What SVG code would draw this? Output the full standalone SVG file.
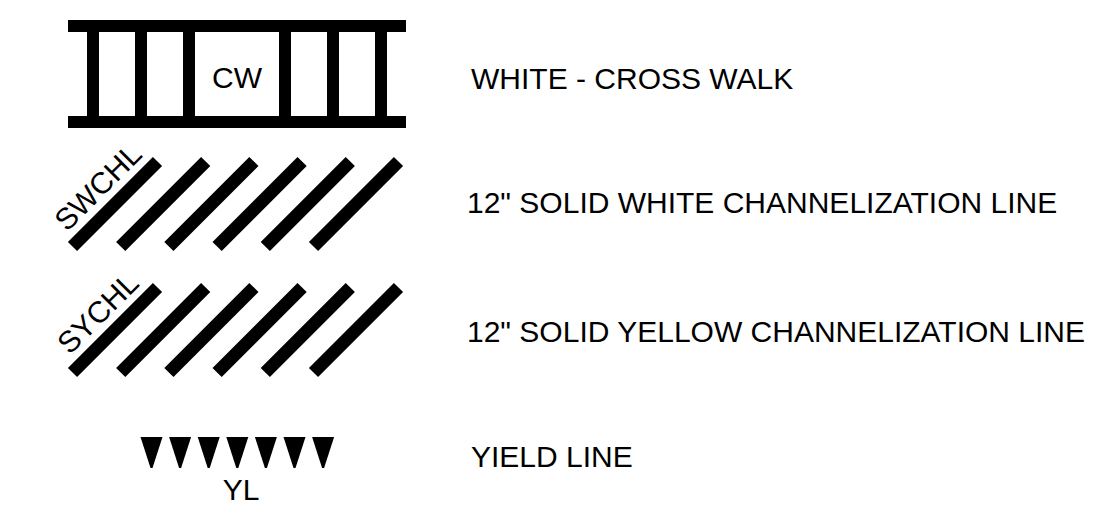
<svg xmlns="http://www.w3.org/2000/svg" width="1106" height="531" viewBox="0 0 1106 531">
<style>
text{font-family:"Liberation Sans",Arial,sans-serif;font-size:30px;fill:#000}
.bar{fill:#000}
.stripe{stroke:#000;stroke-width:13;stroke-linecap:butt;fill:none}
.tri{fill:#000}
</style>
<rect width="1106" height="531" fill="#fff"/>
<g id="crosswalk">
<rect class="bar" x="68" y="20" width="338" height="12"/>
<rect class="bar" x="68" y="116" width="338" height="12"/>
<rect class="bar" x="87" y="20" width="12" height="108"/>
<rect class="bar" x="135" y="20" width="12" height="108"/>
<rect class="bar" x="183" y="20" width="12" height="108"/>
<rect class="bar" x="279" y="20" width="12" height="108"/>
<rect class="bar" x="327" y="20" width="12" height="108"/>
<rect class="bar" x="375" y="20" width="12" height="108"/>
<text x="237" y="88" text-anchor="middle">CW</text>
</g>
<g id="label-cw"><text x="471" y="89">WHITE - CROSS WALK</text></g>
<g id="swchl">
<path class="stripe" d="M72.5,246.5L157.5,161.5M120.7,246.5L205.7,161.5M168.9,246.5L253.9,161.5M217.1,246.5L302.1,161.5M265.3,246.5L350.3,161.5M313.5,246.5L398.5,161.5"/>
<text transform="translate(113,202) rotate(-45)" x="0" y="-11" text-anchor="middle">SWCHL</text>
</g>
<g id="label-swchl"><text x="467" y="213">12" SOLID WHITE CHANNELIZATION LINE</text></g>
<g id="sychl">
<path class="stripe" d="M72.5,372.5L157.5,287.5M120.7,372.5L205.7,287.5M168.9,372.5L253.9,287.5M217.1,372.5L302.1,287.5M265.3,372.5L350.3,287.5M313.5,372.5L398.5,287.5"/>
<text transform="translate(113,328) rotate(-45)" x="0" y="-11" text-anchor="middle">SYCHL</text>
</g>
<g id="label-sychl"><text x="467" y="342">12" SOLID YELLOW CHANNELIZATION LINE</text></g>
<g id="yield">
<polygon class="tri" points="140.5,437 162.5,437 152.5,468 150.5,468"/>
<polygon class="tri" points="169.1,437 191.1,437 181.1,468 179.1,468"/>
<polygon class="tri" points="197.7,437 219.7,437 209.7,468 207.7,468"/>
<polygon class="tri" points="226.3,437 248.3,437 238.3,468 236.3,468"/>
<polygon class="tri" points="254.9,437 276.9,437 266.9,468 264.9,468"/>
<polygon class="tri" points="283.5,437 305.5,437 295.5,468 293.5,468"/>
<polygon class="tri" points="312.1,437 334.1,437 324.1,468 322.1,468"/>
<text x="241" y="500" text-anchor="middle">YL</text>
</g>
<g id="label-yl"><text x="471" y="467">YIELD LINE</text></g>
</svg>
